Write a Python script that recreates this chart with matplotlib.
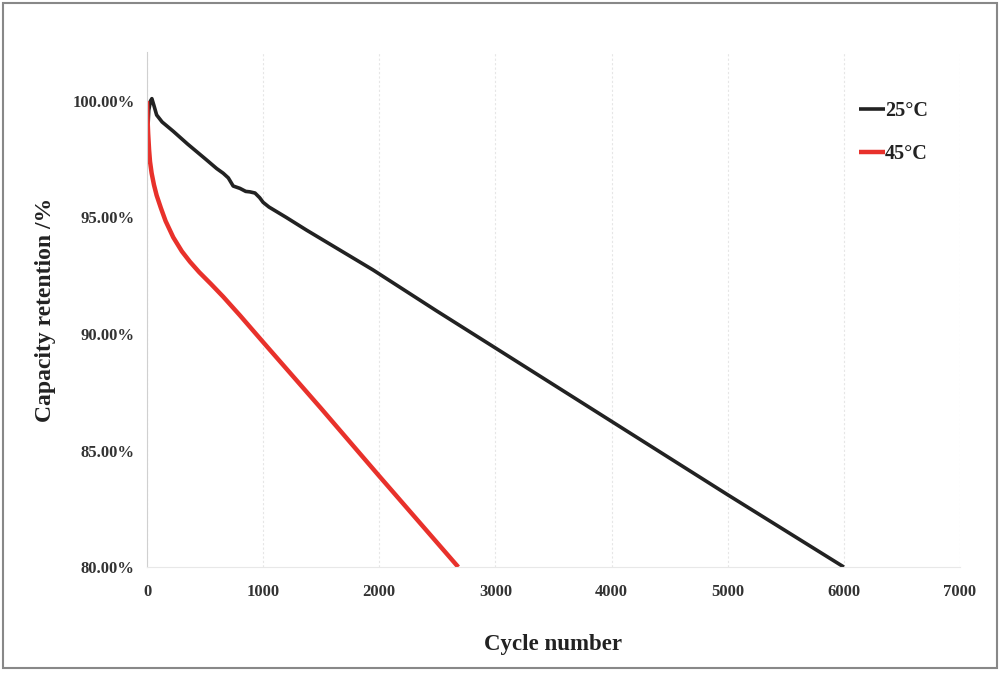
import matplotlib
matplotlib.use("Agg")
import matplotlib.pyplot as plt
from matplotlib.patches import Rectangle

# Data (capacity retention in %)
cycles_25 = [0, 5, 15, 30, 42, 60, 83, 130, 226, 350, 513, 600, 656, 700, 742, 800, 850, 886,
             930, 970, 1000, 1050, 1200, 1373, 1946, 2491, 3000, 4000, 5000, 6000]
ret_25 = [97.3, 98.5, 99.6, 100.0, 100.1, 99.8, 99.4, 99.1, 98.7, 98.15, 97.47, 97.1, 96.9,
          96.7, 96.35, 96.25, 96.12, 96.1, 96.05, 95.85, 95.65, 95.45, 95.0, 94.46, 92.75, 91.0,
          89.4, 86.25, 83.1, 80.0]

cycles_45 = [0, 5, 10, 18, 26, 40, 60, 83, 120, 160, 226, 300, 370, 450, 550, 656, 800, 1000,
             1500, 2000, 2680]
ret_45 = [100.0, 99.2, 98.6, 97.9, 97.4, 96.9, 96.4, 95.95, 95.4, 94.85, 94.15, 93.55, 93.1,
          92.65, 92.15, 91.6, 90.8, 89.65, 86.8, 83.9, 80.0]

x_ticks = [0, 1000, 2000, 3000, 4000, 5000, 6000, 7000]
y_ticks = [80, 85, 90, 95, 100]
labels = ["25°C", "45°C"]

plt.rcParams['font.family'] = ['Liberation Serif', 'DejaVu Serif']

fig = plt.figure(figsize=(10, 6.76), dpi=100)
ax = fig.add_axes([0.147, 0.1612, 0.813, 0.7618])

ax.plot(cycles_25, ret_25, color="#222222", lw=2.6, label=labels[0], solid_capstyle='butt')
ax.plot(cycles_45, ret_45, color="#e8312b", lw=3.2, label=labels[1], solid_capstyle='butt')

ax.set_xlim(0, 7000)
ax.set_ylim(80, 102.1)
ax.set_xticks(x_ticks)
ax.set_yticks(y_ticks)
ax.set_yticklabels([f"{v:.2f}%" for v in y_ticks])
ax.tick_params(axis='both', length=0, labelsize=12, colors="#333333")
ax.tick_params(axis='x', pad=12)
ax.tick_params(axis='y', pad=9)
for t in ax.get_xticklabels() + ax.get_yticklabels():
    t.set_fontweight('bold')

ax.grid(axis='x', color="#e6e6e6", lw=0.8, ls=(0, (2, 2)))
for s in ['top', 'right']:
    ax.spines[s].set_visible(False)
ax.spines['left'].set_color("#d0d0d0")
ax.spines['bottom'].set_color("#e8e8e8")

ax.set_xlabel("Cycle number", fontsize=16.5, fontweight='bold', color="#222222", labelpad=25)
ax.set_ylabel("Capacity retention /%", fontsize=17, fontweight='bold', color="#222222", labelpad=12)

leg = ax.legend(loc='upper right', bbox_to_anchor=(0.983, 0.94), frameon=False,
                handlelength=1.3, handletextpad=0.0, labelspacing=1.15,
                prop={'family': 'Liberation Serif', 'weight': 'bold', 'size': 14.5})
for t in leg.get_texts():
    t.set_color("#222222")

fig.patches.append(Rectangle((0.003, 0.012), 0.994, 0.984, transform=fig.transFigure,
                             fill=False, edgecolor="#888888", lw=1.5))

fig.savefig("out.png", dpi=100)
